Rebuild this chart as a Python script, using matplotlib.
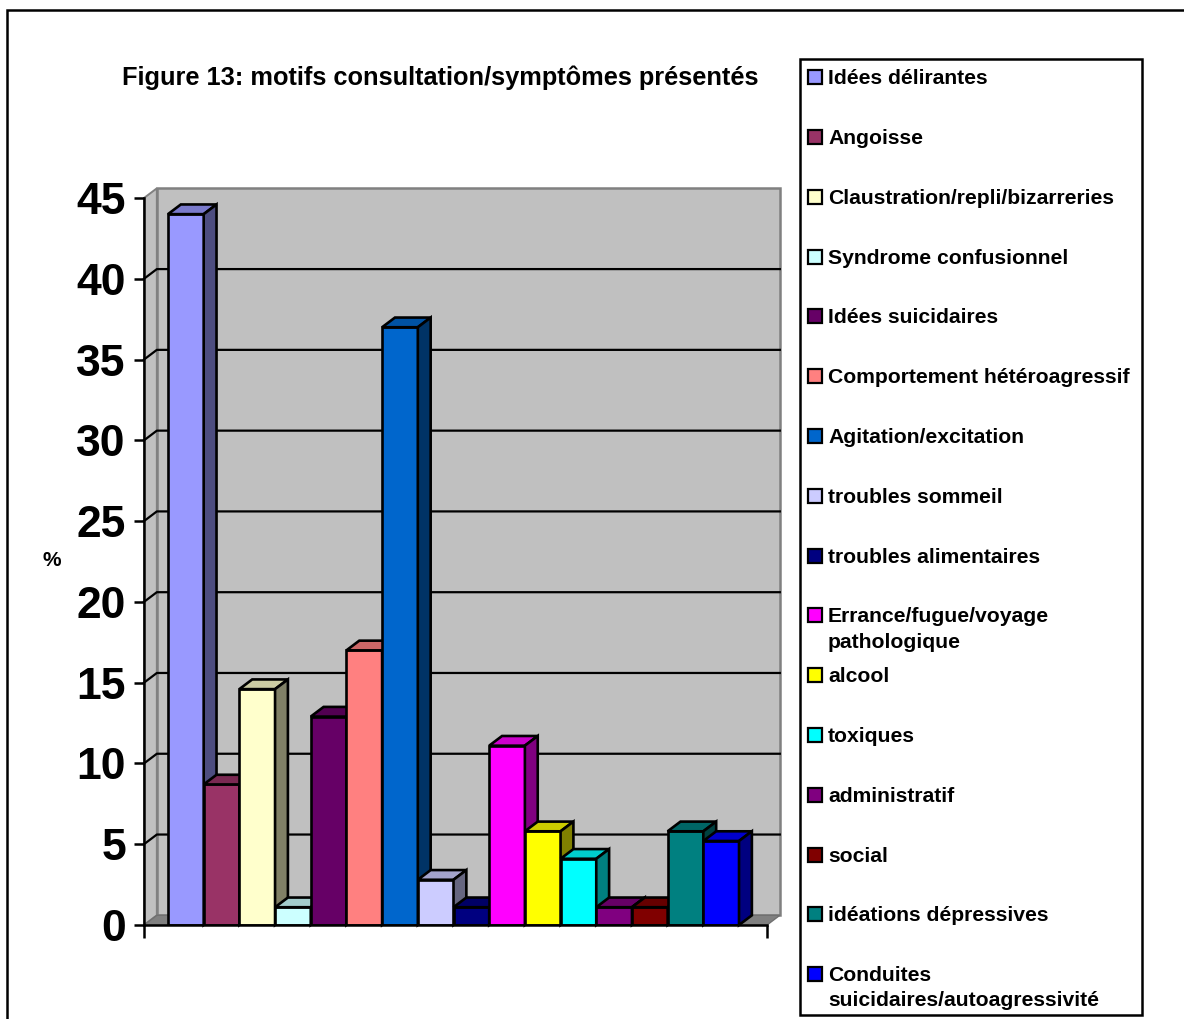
import matplotlib
matplotlib.use('Agg')
import matplotlib.pyplot as plt
from matplotlib.patches import Polygon, Rectangle
from matplotlib.colors import to_rgb

plt.rcParams['font.family'] = ['Liberation Sans', 'DejaVu Sans']
plt.rcParams['font.weight'] = 'bold'

# data (% of patients)
categories = ['Idées délirantes', 'Angoisse', 'Claustration/repli/bizarreries',
              'Syndrome confusionnel', 'Idées suicidaires', 'Comportement hétéroagressif',
              'Agitation/excitation', 'troubles sommeil', 'troubles alimentaires',
              'Errance/fugue/voyage\npathologique', 'alcool', 'toxiques', 'administratif',
              'social', 'idéations dépressives', 'Conduites\nsuicidaires/autoagressivité']
percent = [44.0, 8.7, 14.6, 1.1, 12.9, 17.0, 37.0, 2.8, 1.1, 11.1, 5.8, 4.1, 1.1, 1.1, 5.8, 5.2]
colors = ['#9999FF', '#993366', '#FFFFCC', '#CCFFFF', '#660066', '#FF8080', '#0066CC', '#CCCCFF',
          '#000080', '#FF00FF', '#FFFF00', '#00FFFF', '#800080', '#800000', '#008080', '#0000FF']
yticks = list(range(0, 50, 5))
title = 'Figure 13: motifs consultation/symptômes présentés'

W, H = 1184, 1019
fig = plt.figure(figsize=(W / 100, H / 100), dpi=100)
ax = fig.add_axes([144 / W, 1 - 925 / H, 623 / W, 727 / H])
x0, x1 = -1.172, 16.284
dx, dy = 0.36, 0.6
ax.set_xlim(x0, x1)
ax.set_ylim(0, 45)
ax.patch.set_visible(False)

# walls and floor of the 3d box
ax.add_patch(Rectangle((x0 + dx, dy), x1 - x0, 45, fc='#C0C0C0', ec='#808080', lw=1.8,
                       clip_on=False, zorder=0))
ax.add_patch(Polygon([(x0, 0), (x0 + dx, dy), (x0 + dx, 45 + dy), (x0, 45)], closed=True,
                     fc='#C0C0C0', ec='#808080', lw=1.4, clip_on=False, zorder=0.5))
ax.add_patch(Polygon([(x0, 0), (x1, 0), (x1 + dx, dy), (x0 + dx, dy)], closed=True,
                     fc='#808080', ec='#707070', lw=1, clip_on=False, zorder=0.5))
for v in yticks[1:-1]:
    ax.plot([x0, x0 + dx, x1 + dx], [v, v + dy, v + dy], color='black', lw=1.6,
            clip_on=False, zorder=1)

# bars: front face from ax.bar, then top and side faces
bars = ax.bar(range(len(percent)), percent, width=1, color=colors, edgecolor='black', linewidth=1.9)
for i, (b, h, c) in enumerate(zip(bars, percent, colors)):
    z = 3 + 3 * i
    b.set_zorder(z)
    l, w = b.get_x(), b.get_width()
    r, g, bl = to_rgb(c)
    top = (r * 0.8, g * 0.8, bl * 0.8)
    side = (r * 0.5, g * 0.5, bl * 0.5)
    ax.add_patch(Polygon([(l, h), (l + w, h), (l + w + dx, h + dy), (l + dx, h + dy)], closed=True,
                         fc=top, ec='black', lw=1.9, clip_on=False, zorder=z + 1))
    ax.add_patch(Polygon([(l + w, 0), (l + w + dx, dy), (l + w + dx, h + dy), (l + w, h)], closed=True,
                         fc=side, ec='black', lw=1.9, clip_on=False, zorder=z + 2))

for s in ['top', 'right']:
    ax.spines[s].set_visible(False)
for s in ['left', 'bottom']:
    ax.spines[s].set_linewidth(1.8)
    ax.spines[s].set_zorder(200)
ax.set_yticks(yticks)
ax.tick_params(axis='y', direction='out', length=7, width=1.8, labelsize=32, pad=6)
ax.set_xticks([x0, x1])
ax.set_xticklabels([])
ax.tick_params(axis='x', direction='out', length=9, width=1.8)
ax.set_ylabel('%', rotation=0, fontsize=15, fontweight='bold', va='center', ha='center')
ax.yaxis.set_label_coords((52 - 144) / 623, (925 - 561) / 727)

fig.text(440 / W, 1 - 78 / H, title, ha='center', va='center', fontsize=18.3, fontweight='bold')

# outer frame
fig.add_artist(Rectangle((7 / W, -0.1), 1.2, 1 - 10 / H + 0.1, transform=fig.transFigure,
                         fill=False, ec='black', lw=1.8))

# legend
fig.add_artist(Rectangle((800 / W, 1 - 1015 / H), 342 / W, 956 / H, transform=fig.transFigure,
                         fc='white', ec='black', lw=1.8))
for i, (lab, c) in enumerate(zip(categories, colors)):
    base = 84.3 + 59.8 * i
    fig.add_artist(Rectangle((808 / W, 1 - base / H), 14 / W, 14 / H, transform=fig.transFigure,
                             fc=c, ec='black', lw=1.6))
    for j, line in enumerate(lab.split('\n')):
        fig.text(828 / W, 1 - (base + 25 * j) / H, line, fontsize=15.2, fontweight='bold',
                 ha='left', va='baseline')

fig.savefig('out.png', dpi=100)
